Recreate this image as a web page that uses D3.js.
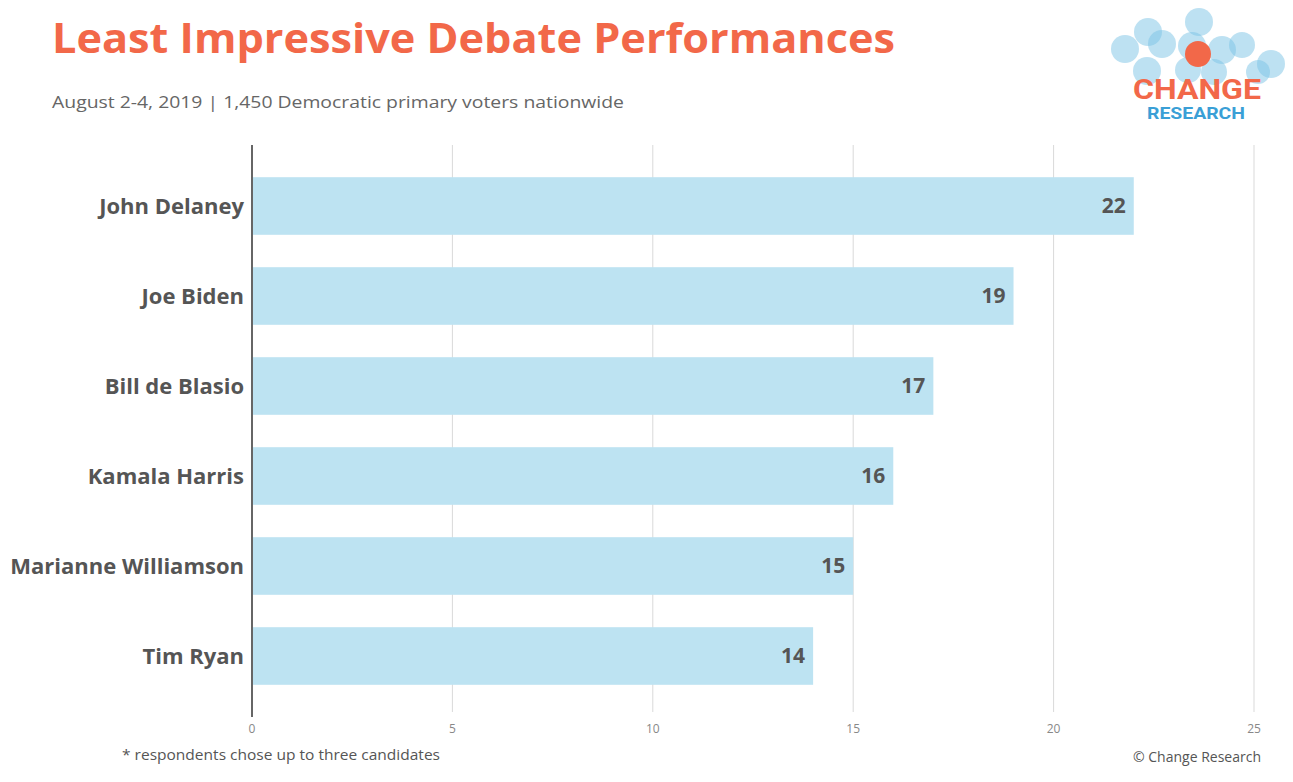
<!DOCTYPE html>
<html><head><meta charset="utf-8">
<script src="https://cdn.jsdelivr.net/npm/d3@7"></script>
<style>body{margin:0;background:#fff;font-family:"Open Sans",sans-serif}</style>
</head><body><div id="chart"></div>
<script>
const candidates = ["John Delaney","Joe Biden","Bill de Blasio","Kamala Harris","Marianne Williamson","Tim Ryan"];
const values = [22,19,17,16,15,14];
const ticks = [0,5,10,15,20,25];

const W = 1293, H = 782;
const svg = d3.select("#chart").append("svg").attr("width", W).attr("height", H);

const x = d3.scaleLinear().domain([0,25]).range([252,1254]);
const y = d3.scaleBand().domain(candidates).range([161,701]).paddingInner(0.36).paddingOuter(0.18);

// gridlines
svg.append("g").selectAll("line").data(ticks.slice(1)).join("line")
  .attr("x1", d => x(d)).attr("x2", d => x(d)).attr("y1", 145).attr("y2", 712)
  .attr("stroke", "#d9d9d9").attr("stroke-width", 1);

svg.append("g").selectAll("rect").data(values).join("rect")
  .attr("x", x(0)).attr("y", (d,i) => y(candidates[i]))
  .attr("width", d => x(d) - x(0)).attr("height", y.bandwidth())
  .attr("fill", "#bde3f2");

svg.append("line").attr("x1", x(0)).attr("x2", x(0)).attr("y1", 145).attr("y2", 717)
  .attr("stroke", "#666").attr("stroke-width", 2);

svg.append("g").selectAll("text").data(values).join("text")
  .attr("x", d => x(d) - 8).attr("y", (d,i) => y(candidates[i]) + y.bandwidth()/2)
  .attr("dy", "0.35em").attr("text-anchor", "end")
  .attr("font-size", 21).attr("font-weight", 700).attr("fill", "#555")
  .text(d => d);

svg.append("g").selectAll("text").data(candidates).join("text")
  .attr("x", 244).attr("y", d => y(d) + y.bandwidth()/2).attr("dy", "0.35em")
  .attr("text-anchor", "end").attr("font-size", 22).attr("font-weight", 700).attr("fill", "#555")
  .text(d => d);

svg.append("g").selectAll("text").data(ticks).join("text")
  .attr("x", d => x(d)).attr("y", 733).attr("text-anchor", "middle")
  .attr("font-size", 12).attr("fill", "#888").text(d => d);

svg.append("text").attr("x", 52).attr("y", 53).attr("font-size", 41).attr("font-weight", 700)
  .attr("fill", "#f26849").attr("textLength", 843).attr("lengthAdjust", "spacingAndGlyphs")
  .text("Least Impressive Debate Performances");
svg.append("text").attr("x", 52).attr("y", 108).attr("font-size", 17).attr("fill", "#666")
  .attr("textLength", 572).attr("lengthAdjust", "spacingAndGlyphs")
  .text("August 2-4, 2019  | 1,450 Democratic primary voters nationwide");
svg.append("text").attr("x", 122).attr("y", 760).attr("font-size", 14).attr("fill", "#555")
  .attr("textLength", 318).attr("lengthAdjust", "spacingAndGlyphs")
  .text("* respondents chose up to three candidates");
svg.append("text").attr("x", 1261).attr("y", 762).attr("text-anchor", "end").attr("font-size", 14).attr("fill", "#555")
  .text("© Change Research");

// logo
const logo = svg.append("g");
const bubbles = [[1125,49,14],[1148,32,14],[1162,44,14],[1199,22,14],[1192,46,14],[1222,50,14],[1242,45,13],[1271,64,14],[1147,71,14],[1258,72,12],[1188,70,13],[1214,72,13]];
logo.selectAll("circle").data(bubbles).join("circle")
  .attr("cx", d => d[0]).attr("cy", d => d[1]).attr("r", d => d[2])
  .attr("fill", "#7cc4e6").attr("opacity", 0.5);
logo.append("circle").attr("cx", 1198).attr("cy", 54).attr("r", 13).attr("fill", "#f26849");
logo.append("text").attr("x", 1197).attr("y", 99).attr("text-anchor", "middle").attr("font-size", 28)
  .attr("font-weight", 700).attr("fill", "#f26849").attr("font-family", "Roboto,sans-serif")
  .attr("textLength", 128).attr("lengthAdjust", "spacingAndGlyphs").text("CHANGE");
logo.append("text").attr("x", 1196).attr("y", 119).attr("text-anchor", "middle").attr("font-size", 16)
  .attr("font-weight", 700).attr("fill", "#3a9fd6").attr("font-family", "Roboto,sans-serif")
  .attr("textLength", 98).attr("lengthAdjust", "spacingAndGlyphs").text("RESEARCH");
</script></body></html>
